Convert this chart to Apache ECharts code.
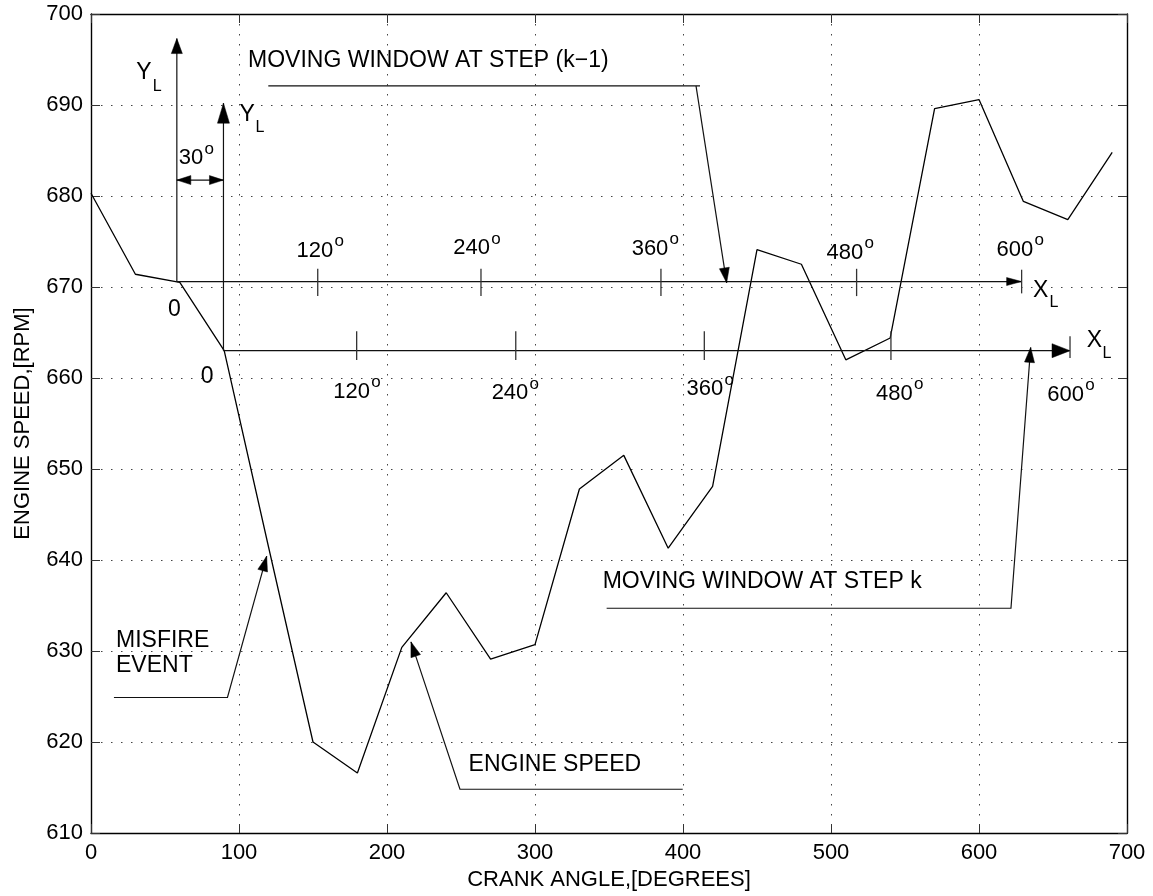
<!DOCTYPE html>
<html>
<head>
<meta charset="utf-8">
<script src="https://cdn.jsdelivr.net/npm/echarts@6.0.0/dist/echarts.min.js"></script>
<style>
html,body{margin:0;padding:0;background:#fff;}
#chart{width:1153px;height:896px;}
</style>
</head>
<body>
<div id="chart"></div>
<script>
// ---- data ----
const crankAngle  = [0, 30, 60, 90, 120, 150, 180, 210, 240, 270, 300, 330, 360, 390, 420, 450, 480, 510, 540, 570, 600, 630, 660, 690];
const engineSpeed = [680.3, 671.4, 670.5, 663.0, 641.4, 620.0, 616.6, 630.4, 636.4, 629.1, 630.7, 647.8, 651.5, 641.3, 648.1, 674.1, 672.5, 662.0, 664.4, 689.6, 690.6, 679.4, 677.4, 684.8];

const xAxisTitle = 'CRANK ANGLE,[DEGREES]';
const yAxisTitle = 'ENGINE SPEED,[RPM]';

// local (moving window) axes, in data coordinates [crank angle, rpm]
const upperWindowOrigin = [58, 670.6];
const upperWindowYTop   = 697.3;
const upperWindowXEnd   = 628.8;
const upperWindowTicks  = [153.2, 263.5, 385.1, 517.3];
const lowerWindowOrigin = [89.5, 663.0];
const lowerWindowYTop   = 690.2;
const lowerWindowXEnd   = 661.5;
const lowerWindowTicks  = [179.5, 287.0, 414.4, 540.5];
const dimensionArrowY   = 681.75;

// pointer lines (underline + arrow), data coordinates
const pointerPrevStep = [[119.8, 692.1], [411.5, 692.1]];
const pointerPrevTip  = [[408.8, 692.1], [429.5, 670.46]];
const pointerStepK    = [[348.4, 634.7], [621.6, 634.7], [634.9, 663.36]];
const pointerEngine   = [[399.8, 614.81], [249.3, 614.81], [216.2, 631.0]];
const pointerMisfire  = [[15.5, 624.89], [92.2, 624.89], [118.7, 640.42]];

// annotation texts: [crank angle, rpm, text, kind]
const annotationTexts = [
  [106.1, 694.9, 'MOVING WINDOW AT STEP (k\u22121)', 'label'],
  [345.7, 637.64, 'MOVING WINDOW AT STEP k', 'label'],
  [255.1, 617.55, 'ENGINE SPEED', 'label'],
  [16.9, 631.19, 'MISFIRE', 'label'],
  [16.9, 628.4, 'EVENT', 'label'],
  [35.8, 693.59, 'Y', 'sym'], [44.8, 691.98, 'L', 'sub'],
  [105.6, 688.95, 'Y', 'sym'], [114.1, 687.52, 'L', 'sub'],
  [641.7, 669.6, 'X', 'sym'], [650.7, 668.29, 'L', 'sub'],
  [678.0, 664.11, 'X', 'sym'], [686.5, 662.70, 'L', 'sub'],
  [56.4, 667.55, '0', 'sym'],
  [78.4, 660.10, '0', 'sym'],
  [75.9, 684.14, '30', 'deg'],
  [163.7, 674.0, '120', 'deg'], [269.6, 674.24, '240', 'deg'], [390.1, 674.22, '360', 'deg'],
  [521.8, 673.78, '480', 'deg'], [636.7, 674.11, '600', 'deg'],
  [188.5, 658.50, '120', 'deg'], [295.5, 658.34, '240', 'deg'], [427.2, 658.78, '360', 'deg'],
  [555.2, 658.30, '480', 'deg'], [670.9, 658.17, '600', 'deg']
];

// ---- build annotation polylines from the named arrays ----
const annotationLines = [];
annotationLines.push({pts: [upperWindowOrigin, [upperWindowOrigin[0], upperWindowYTop]], head: 'yUp'});
annotationLines.push({pts: [upperWindowOrigin, [upperWindowXEnd, upperWindowOrigin[1]]], head: 'xUp'});
annotationLines.push({pts: [[upperWindowXEnd, upperWindowOrigin[1] + 1.3], [upperWindowXEnd, upperWindowOrigin[1] - 1.3]], tick: true});
upperWindowTicks.forEach(x => annotationLines.push({pts: [[x, upperWindowOrigin[1] + 1.4], [x, upperWindowOrigin[1] - 1.6]], tick: true}));
annotationLines.push({pts: [lowerWindowOrigin, [lowerWindowOrigin[0], lowerWindowYTop]], head: 'yLow'});
annotationLines.push({pts: [lowerWindowOrigin, [lowerWindowXEnd, lowerWindowOrigin[1]]], head: 'xLow'});
annotationLines.push({pts: [[lowerWindowXEnd, lowerWindowOrigin[1] + 1.6], [lowerWindowXEnd, lowerWindowOrigin[1] - 0.8]], tick: true});
lowerWindowTicks.forEach(x => annotationLines.push({pts: [[x, lowerWindowOrigin[1] + 2.15], [x, lowerWindowOrigin[1] - 1.03]], tick: true}));
annotationLines.push({pts: [[upperWindowOrigin[0], dimensionArrowY], [lowerWindowOrigin[0], dimensionArrowY]], head: 'dim', tail: 'dim'});
annotationLines.push({pts: pointerPrevStep, under: true});
annotationLines.push({pts: pointerPrevTip, head: 'ptr'});
annotationLines.push({pts: pointerStepK, head: 'ptr'});
annotationLines.push({pts: pointerEngine, head: 'ptr'});
annotationLines.push({pts: pointerMisfire, head: 'ptr'});

const FONT = '"Liberation Sans", Arial, Helvetica, sans-serif';
const headSizes = {yUp: [15, 11], xUp: [15, 8], yLow: [20, 12], xLow: [18, 14], dim: [14, 9], ptr: [15, 10]};
const textKinds = {
  label: {size: 23, align: 'left'},
  sym:   {size: 23, align: 'center'},
  sub:   {size: 16, align: 'center'},
  deg:   {size: 22, align: 'right'}
};

function arrowHead(from, tip, size) {
  const dx = tip[0] - from[0], dy = tip[1] - from[1];
  const len = Math.sqrt(dx * dx + dy * dy) || 1;
  const ux = dx / len, uy = dy / len;
  const bx = tip[0] - ux * size[0], by = tip[1] - uy * size[0];
  const nx = -uy * size[1] / 2, ny = ux * size[1] / 2;
  return {
    type: 'polygon',
    shape: {points: [[tip[0], tip[1]], [bx + nx, by + ny], [bx - nx, by - ny]]},
    style: {fill: '#000', stroke: '#000', lineWidth: 0.5}
  };
}

function renderLines(params, api) {
  const a = annotationLines[params.dataIndex];
  const pts = a.pts.map(p => api.coord(p));
  const children = [{
    type: 'polyline',
    shape: {points: pts},
    style: {stroke: a.tick ? '#333' : '#111', lineWidth: a.tick ? 1.3 : 1.2, fill: null}
  }];
  if (a.head) children.push(arrowHead(pts[pts.length - 2], pts[pts.length - 1], headSizes[a.head]));
  if (a.tail) children.push(arrowHead(pts[1], pts[0], headSizes[a.tail]));
  return {type: 'group', children: children};
}

function renderTexts(params, api) {
  const t = annotationTexts[params.dataIndex];
  const p = api.coord([t[0], t[1]]);
  const k = textKinds[t[3]];
  const children = [{
    type: 'text', x: p[0], y: p[1],
    style: {text: t[2], fill: '#000', fontSize: k.size, fontFamily: FONT, align: k.align, verticalAlign: 'middle'}
  }];
  if (t[3] === 'deg') {
    children.push({
      type: 'text', x: p[0] + 6, y: p[1] - 9,
      style: {text: 'o', fill: '#000', fontSize: 17, fontFamily: FONT, align: 'center', verticalAlign: 'middle'}
    });
  }
  return {type: 'group', children: children};
}

const chart = echarts.init(document.getElementById('chart'), null, {renderer: 'canvas'});

const gridLine = {show: true, lineStyle: {type: [1.5, 8.5], color: '#444', width: 1}};
const axisLineStyle = {show: true, onZero: false, lineStyle: {color: '#000', width: 1.4}};
const tickStyle = {show: true, inside: true, length: 9, lineStyle: {color: '#333', width: 1}};

chart.setOption({
  animation: false,
  backgroundColor: '#fff',
  grid: {left: 91, top: 14, width: 1036, height: 819, containLabel: false},
  xAxis: [{
    type: 'value', position: 'bottom', min: 0, max: 700, interval: 100,
    axisLine: axisLineStyle, axisTick: tickStyle,
    axisLabel: {color: '#000', fontSize: 22, fontFamily: FONT, margin: 9},
    splitLine: gridLine,
    name: xAxisTitle, nameLocation: 'middle', nameGap: 36,
    nameTextStyle: {color: '#000', fontSize: 22, fontFamily: FONT}
  }, {
    type: 'value', position: 'top', min: 0, max: 700, interval: 100,
    axisLine: axisLineStyle, axisTick: tickStyle,
    axisLabel: {show: false}, splitLine: {show: false}
  }],
  yAxis: [{
    type: 'value', position: 'left', min: 610, max: 700, interval: 10,
    axisLine: axisLineStyle, axisTick: tickStyle,
    axisLabel: {color: '#000', fontSize: 22, fontFamily: FONT, margin: 8},
    splitLine: gridLine,
    name: yAxisTitle, nameLocation: 'middle', nameGap: 57,
    nameTextStyle: {color: '#000', fontSize: 22, fontFamily: FONT}
  }, {
    type: 'value', position: 'right', min: 610, max: 700, interval: 10,
    axisLine: axisLineStyle, axisTick: tickStyle,
    axisLabel: {show: false}, splitLine: {show: false}
  }],
  series: [{
    type: 'line',
    xAxisIndex: 0, yAxisIndex: 0,
    data: crankAngle.map((x, i) => [x, engineSpeed[i]]),
    showSymbol: false, symbol: 'none',
    lineStyle: {color: '#000', width: 1.3},
    z: 3
  }, {
    type: 'custom',
    xAxisIndex: 0, yAxisIndex: 0,
    renderItem: renderLines,
    data: annotationLines.map(a => a.pts[0]),
    silent: true, clip: false, z: 4
  }, {
    type: 'custom',
    xAxisIndex: 0, yAxisIndex: 0,
    renderItem: renderTexts,
    data: annotationTexts.map(t => [t[0], t[1]]),
    silent: true, clip: false, z: 5
  }]
});
</script>
</body>
</html>
